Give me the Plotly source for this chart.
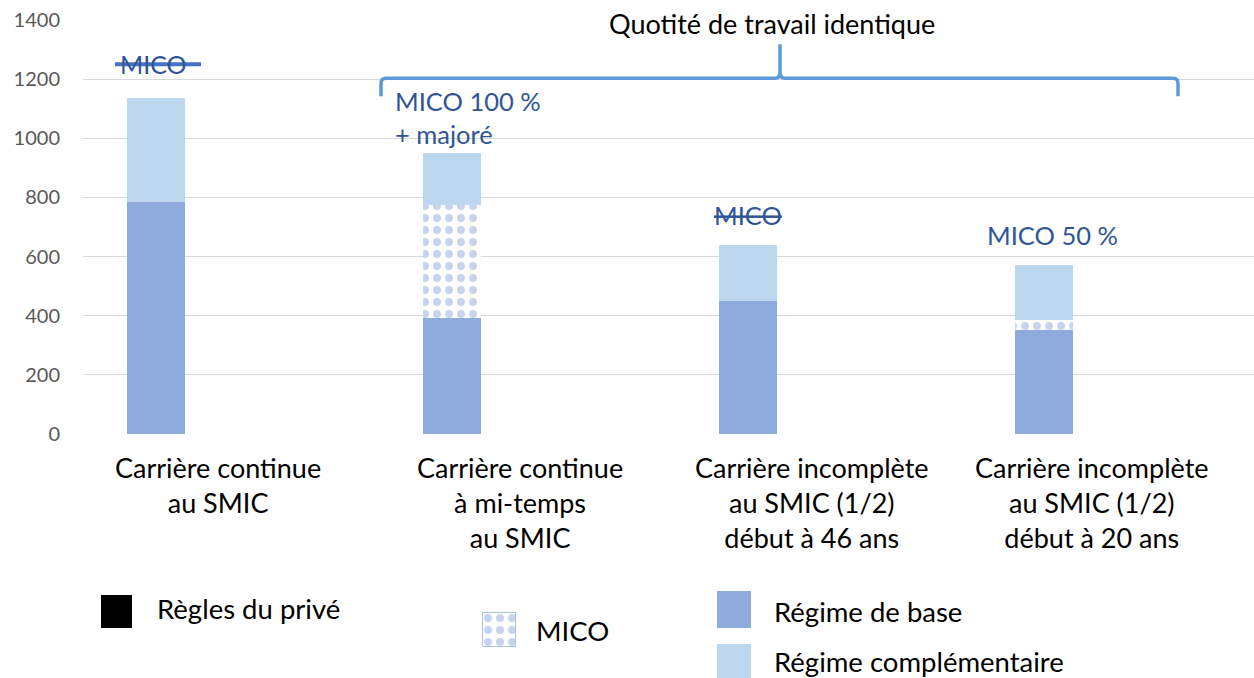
import plotly.graph_objects as go

# Données (en euros / mois)
categories = [
    'Carrière continue<br>au SMIC',
    'Carrière continue<br>à mi-temps<br>au SMIC',
    'Carrière incomplète<br>au SMIC (1/2)<br>début à 46 ans',
    'Carrière incomplète<br>au SMIC (1/2)<br>début à 20 ans',
]
regime_base = [786, 392, 450, 352]
mico = [0, 382, 0, 34]
regime_complementaire = [349, 176, 189, 185]
niveau_regles_prive = [1250]
motif_legende = [1]

POLICE = 'Lato'
BLEU_BASE = '#8faadc'
BLEU_COMPL = '#bdd7ee'
BLEU_TEXTE = '#2f5597'
BLEU_ACCOLADE = '#5b9bd5'

# la capture écrase légèrement la hauteur : on prévoit un peu plus haut
W, H_REF = 1254, 678
S = 689 / 678
H = round(H_REF * S)
ML = 83
MT = round(20 * S)
PLOT_W = W - ML
PLOT_H = H - MT


def px_x(p):
    return (p - ML) / PLOT_W


def px_y(p):
    return (H - p * S) / PLOT_H


motif = dict(shape='.', fgcolor=BLEU_BASE, bgcolor='white', size=12, solidity=0.35)

fig = go.Figure()
fig.add_trace(go.Bar(
    name='Régime de base', x=categories, y=regime_base,
    marker=dict(color=BLEU_BASE, line_width=0), width=0.196,
))
fig.add_trace(go.Bar(
    name='MICO', x=categories, y=mico,
    marker=dict(color='white', line_width=0, pattern=motif),
    width=0.196,
))
fig.add_trace(go.Bar(
    name='Régime complémentaire', x=categories, y=regime_complementaire,
    marker=dict(color=BLEU_COMPL, line_width=0), width=0.196,
))

# petite case à motif pour la légende MICO
fig.add_trace(go.Bar(
    x=[0], y=motif_legende, xaxis='x2', yaxis='y2', width=1,
    marker=dict(color='white', line=dict(color='#a9c1e8', width=1.5), pattern=motif),
    hoverinfo='skip',
))

fig.update_layout(
    width=W, height=H,
    barmode='stack',
    showlegend=False,
    margin=dict(l=ML, r=0, t=MT, b=0),
    plot_bgcolor='white',
    paper_bgcolor='white',
    font=dict(family=POLICE, color='black'),
    xaxis=dict(range=[-0.247, 3.71], showticklabels=False, showgrid=False,
               zeroline=False, showline=False),
    yaxis=dict(domain=[px_y(434), 1], range=[0, 1400], dtick=200,
               gridcolor='#d9d9d9', gridwidth=1, zeroline=False,
               tickfont=dict(size=20, color='#595959'), ticklabelstandoff=22),
    xaxis2=dict(domain=[px_x(482), px_x(516)], range=[-0.5, 0.5], visible=False),
    yaxis2=dict(domain=[px_y(647), px_y(612)], range=[0, 1], visible=False,
                anchor='x2'),
)

# libellés des catégories, décalés vers la droite comme sur l'original
decalages = [0.21, 0.23, 0.216, 0.162]
for i, (lib, d) in enumerate(zip(categories, decalages)):
    fig.add_annotation(x=i + d, y=px_y(449), xref='x', yref='paper',
                       text=lib, showarrow=False, xanchor='center', yanchor='top',
                       font=dict(size=27, color='black'), align='center')

# accolade « Quotité de travail identique »
accolade = (
    f'M {px_x(381)},{px_y(96)} L {px_x(381)},{px_y(83)} '
    f'Q {px_x(381)},{px_y(78)} {px_x(386)},{px_y(78)} '
    f'L {px_x(775)},{px_y(78)} Q {px_x(780)},{px_y(78)} {px_x(780)},{px_y(72)} '
    f'L {px_x(780)},{px_y(44)} L {px_x(780)},{px_y(72)} '
    f'Q {px_x(780)},{px_y(78)} {px_x(785)},{px_y(78)} '
    f'L {px_x(1173)},{px_y(78)} Q {px_x(1178)},{px_y(78)} {px_x(1178)},{px_y(83)} '
    f'L {px_x(1178)},{px_y(96)}'
)
fig.add_shape(type='path', path=accolade, xref='paper', yref='paper',
              line=dict(color=BLEU_ACCOLADE, width=3.5))
fig.add_annotation(x=px_x(772), y=px_y(23), xref='paper', yref='paper',
                   text='Quotité de travail identique', showarrow=False,
                   xanchor='center', yanchor='middle',
                   font=dict(size=27, color='black'))

# annotations MICO au-dessus des barres
fig.add_annotation(x=-0.01, y=niveau_regles_prive[0], xref='x', yref='y',
                   text='MICO', showarrow=False, xanchor='center', yanchor='middle',
                   font=dict(size=25, color=BLEU_TEXTE))
fig.add_shape(type='line', xref='x', yref='y',
              x0=-0.139, x1=0.152,
              y0=niveau_regles_prive[0], y1=niveau_regles_prive[0],
              line=dict(color='#4472c4', width=4))
fig.add_annotation(x=px_x(393), y=px_y(84), xref='paper', yref='paper',
                   text='MICO 100 %<br>+ majoré', showarrow=False,
                   xanchor='left', yanchor='top', align='left',
                   font=dict(size=25.5, color=BLEU_TEXTE))
fig.add_annotation(x=2, y=px_y(215), xref='x', yref='paper',
                   text='<s>MICO</s>', showarrow=False,
                   xanchor='center', yanchor='middle',
                   font=dict(size=25.5, color=BLEU_TEXTE))
fig.add_annotation(x=3.03, y=px_y(235), xref='x', yref='paper',
                   text='MICO 50 %', showarrow=False,
                   xanchor='center', yanchor='middle',
                   font=dict(size=25.5, color=BLEU_TEXTE))

# légende dessinée à la main
fig.add_shape(type='rect', xref='paper', yref='paper',
              x0=px_x(101), x1=px_x(132), y0=px_y(628), y1=px_y(595),
              fillcolor='black', line_width=0)
fig.add_shape(type='rect', xref='paper', yref='paper',
              x0=px_x(717), x1=px_x(751), y0=px_y(628), y1=px_y(591),
              fillcolor=BLEU_BASE, line_width=0)
fig.add_shape(type='rect', xref='paper', yref='paper',
              x0=px_x(717), x1=px_x(751), y0=px_y(680), y1=px_y(644),
              fillcolor=BLEU_COMPL, line_width=0)
legendes = [
    ('Règles du privé', 155, 608),
    ('MICO', 534, 630),
    ('Régime de base', 772, 611),
    ('Régime complémentaire', 772, 661),
]
for texte, lx, ly in legendes:
    fig.add_annotation(x=px_x(lx), y=px_y(ly), xref='paper', yref='paper',
                       text=texte, showarrow=False, xanchor='left', yanchor='middle',
                       font=dict(size=27.5, color='black'))

# la page n'a pas de marge autour de la figure
page = ("document.documentElement.style.overflow='hidden';"
        "document.body.style.margin='0px';"
        "document.body.style.overflow='hidden';")
fig.write_html('out.html', post_script=page,
               config={'displayModeBar': False})
